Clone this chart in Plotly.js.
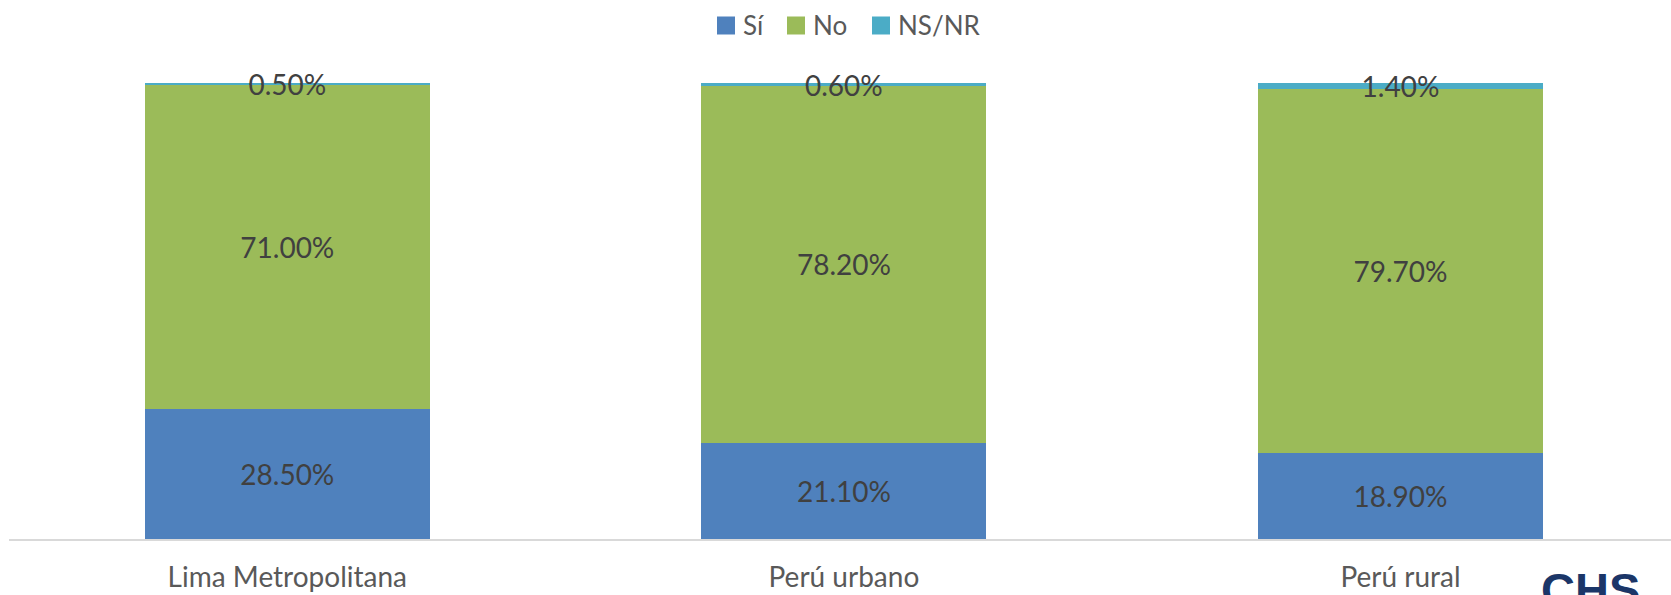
<!DOCTYPE html>
<html>
<head>
<meta charset="utf-8">
<script src="https://cdn.plot.ly/plotly-3.0.1.min.js"></script>
<style>html,body{margin:0;padding:0;background:#fff;}#chart{width:1671px;height:595px;}</style>
</head>
<body>
<div id="chart"></div>
<script>
var categories = ["Lima Metropolitana", "Perú urbano", "Perú rural"];
var seriesNames = ["Sí", "No", "NS/NR"];
var si = [28.5, 21.1, 18.9];
var no = [71.0, 78.2, 79.7];
var nsnr = [0.5, 0.6, 1.4];
var colors = ["#4F81BD", "#9BBB59", "#4BACC6"];

function fmt(v) { return v.toFixed(2) + "%"; }

var values = [si, no, nsnr];
var traces = values.map(function (vals, i) {
  return {
    type: "bar",
    name: seriesNames[i],
    x: categories,
    y: vals,
    marker: { color: colors[i], line: { width: 0 } },
    text: vals.map(fmt),
    textposition: "inside",
    insidetextanchor: "middle",
    constraintext: "none",
    cliponaxis: false,
    textfont: { family: "Lato, 'Open Sans', sans-serif", size: 28, color: "#404040" },
    hoverinfo: "name+y",
    showlegend: false
  };
});

// custom legend (larger squares as in the reference)
var plotL = 9, plotW = 1662, plotT = 83, plotH = 456;
function px(x) { return (x - plotL) / plotW; }
function py(y) { return (plotT + plotH - y) / plotH; }
var legendX = [717, 787, 872];
var shapes = [];
var annotations = [];
seriesNames.forEach(function (n, i) {
  shapes.push({
    type: "rect", xref: "paper", yref: "paper",
    x0: px(legendX[i]), x1: px(legendX[i] + 18),
    y0: py(34.5), y1: py(16.5),
    fillcolor: colors[i], line: { width: 0 }
  });
  annotations.push({
    xref: "paper", yref: "paper",
    x: px(legendX[i] + 24), y: py(25.5),
    xanchor: "left", yanchor: "middle",
    text: n, showarrow: false,
    font: { family: "Lato, 'Open Sans', sans-serif", size: 26, color: "#595959" }
  });
});
annotations.push({
  xref: "paper", yref: "paper",
  x: px(1539), y: py(561),
  xanchor: "left", yanchor: "top",
  text: "<b>CHS</b>", showarrow: false,
  font: { family: "'Liberation Sans', Arial, sans-serif", size: 47, color: "#1B3668" }
});

var layout = {
  width: 1671, height: 595,
  margin: { l: plotL, r: 0, t: plotT, b: 595 - plotT - plotH, pad: 0 },
  barmode: "stack",
  bargap: 0.488,
  paper_bgcolor: "#ffffff",
  plot_bgcolor: "#ffffff",
  showlegend: false,
  xaxis: {
    type: "category",
    range: [-0.5, 2.486],
    showline: true, linecolor: "#D9D9D9", linewidth: 1.5,
    showgrid: false, zeroline: false, ticks: "",
    tickfont: { family: "Lato, 'Open Sans', sans-serif", size: 28, color: "#595959" },
    ticklabelstandoff: 13
  },
  yaxis: {
    range: [0, 100],
    visible: false, showgrid: false, zeroline: false
  },
  shapes: shapes,
  annotations: annotations
};

Plotly.newPlot("chart", traces, layout, { displayModeBar: false, staticPlot: true });
</script>
</body>
</html>
